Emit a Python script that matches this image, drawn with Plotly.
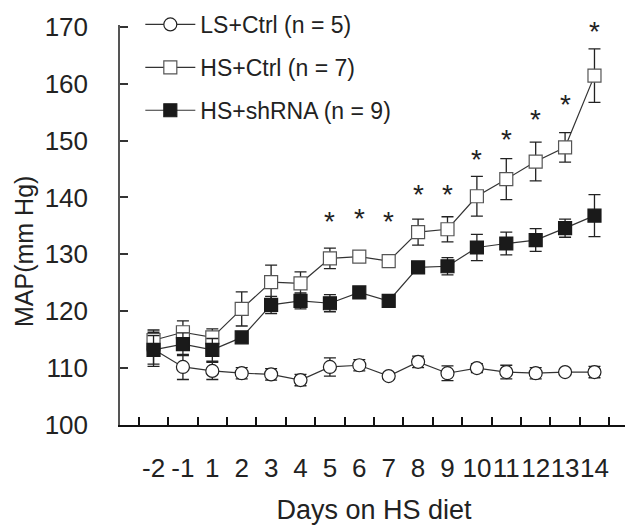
import plotly.graph_objects as go

days = ["-2", "-1", "1", "2", "3", "4", "5", "6", "7", "8", "9", "10", "11", "12", "13", "14"]

ls_mean = [113.3, 110.2, 109.5, 109.1, 108.9, 107.9, 110.2, 110.5, 108.6, 111.1, 109.1, 110.0, 109.3, 109.1, 109.3, 109.3]
ls_err = [3.0, 2.2, 1.5, 1.0, 1.0, 1.0, 1.6, 1.0, 0.5, 1.0, 1.3, 0.8, 1.2, 1.0, 0.5, 1.0]

hs_mean = [114.9, 116.3, 115.4, 120.4, 125.1, 124.9, 129.3, 129.6, 128.8, 133.9, 134.4, 140.2, 143.2, 146.3, 148.8, 161.4]
hs_err = [1.8, 2.0, 1.5, 3.0, 3.0, 2.0, 1.8, 1.0, 1.0, 2.3, 2.2, 3.5, 3.6, 3.4, 2.6, 4.7]

sh_mean = [113.2, 114.2, 113.2, 115.4, 121.1, 121.8, 121.4, 123.3, 121.8, 127.7, 127.9, 131.2, 131.9, 132.5, 134.6, 136.8]
sh_err = [2.5, 2.0, 2.0, 0.5, 1.5, 1.4, 1.5, 1.0, 0.5, 1.0, 1.5, 2.3, 2.0, 2.0, 1.6, 3.7]

sig_days = ["5", "6", "7", "8", "9", "10", "11", "12", "13", "14"]
sig_y = [136.8, 137.3, 136.8, 141.6, 141.6, 147.7, 151.2, 154.7, 157.4, 170.2]

yticks = [100, 110, 120, 130, 140, 150, 160, 170]

FONT = "Liberation Sans, Arial, sans-serif"

fig = go.Figure()

def add_series(name, mean, err, symbol, fill, outline, group):
    fig.add_trace(go.Scatter(
        x=days, y=mean, name=name, mode="lines+markers",
        legendgroup=group,
        line=dict(color="#333333", width=1.2),
        marker=dict(symbol=symbol, size=13, color=fill,
                    line=dict(color=outline, width=1.2)),
        error_y=dict(type="data", array=err, visible=True,
                     color="#222222", thickness=1.3, width=6),
    ))

add_series("LS+Ctrl (n = 5)", ls_mean, ls_err, "circle", "white", "#222222", "a")
add_series("HS+Ctrl (n = 7)", hs_mean, hs_err, "square", "white", "#555555", "b")
add_series("HS+shRNA (n = 9)", sh_mean, sh_err, "square", "#1a1a1a", "#1a1a1a", "c")

for d, yv in zip(sig_days, sig_y):
    fig.add_annotation(x=days.index(d), y=yv, text="*", showarrow=False,
                       font=dict(family=FONT, size=28, color="#222222"),
                       xanchor="center", yanchor="middle", yshift=-6)

# y-axis title placed as rotated text (sits slightly below the axis centre in the reference)
fig.add_annotation(xref="paper", yref="paper", x=-0.189, y=0.435,
                   text="MAP(mm Hg)", textangle=-90, showarrow=False,
                   xanchor="center", yanchor="middle",
                   font=dict(family=FONT, size=25, color="#222222"))

fig.update_layout(
    width=625, height=517,
    margin=dict(l=112, r=5, t=17, b=100, autoexpand=False),
    paper_bgcolor="white", plot_bgcolor="white",
    font=dict(family=FONT, color="#222222"),
    showlegend=True,
    legend=dict(x=0.04, y=1.055, xanchor="left", yanchor="top",
                bgcolor="rgba(0,0,0,0)", font=dict(family=FONT, size=23, color="#222222"),
                tracegroupgap=10, itemwidth=50, traceorder="grouped"),
)

fig.update_xaxes(
    type="category", categoryorder="array", categoryarray=days,
    tickmode="linear", tick0=0, dtick=1,
    tickson="boundaries", ticks="inside", ticklen=8, tickwidth=1.5, tickcolor="#111111",
    showline=True, linecolor="#111111", linewidth=2,
    showgrid=False, zeroline=False, automargin=False, tickangle=0,
    tickfont=dict(family=FONT, size=26, color="#222222"),
    ticklabelstandoff=19,
    title=dict(text="Days on HS diet", font=dict(family=FONT, size=27, color="#222222"), standoff=20),
)

fig.update_yaxes(
    range=[100, 170.3], tickvals=yticks, ticktext=[str(v) for v in yticks],
    ticks="inside", ticklen=8, tickwidth=1.5, tickcolor="#333333",
    showline=True, linecolor="#555555", linewidth=1.5,
    showgrid=False, zeroline=False, automargin=False,
    tickfont=dict(family=FONT, size=26, color="#222222"),
    ticklabelstandoff=25,
)

fig.write_html("out.html")
